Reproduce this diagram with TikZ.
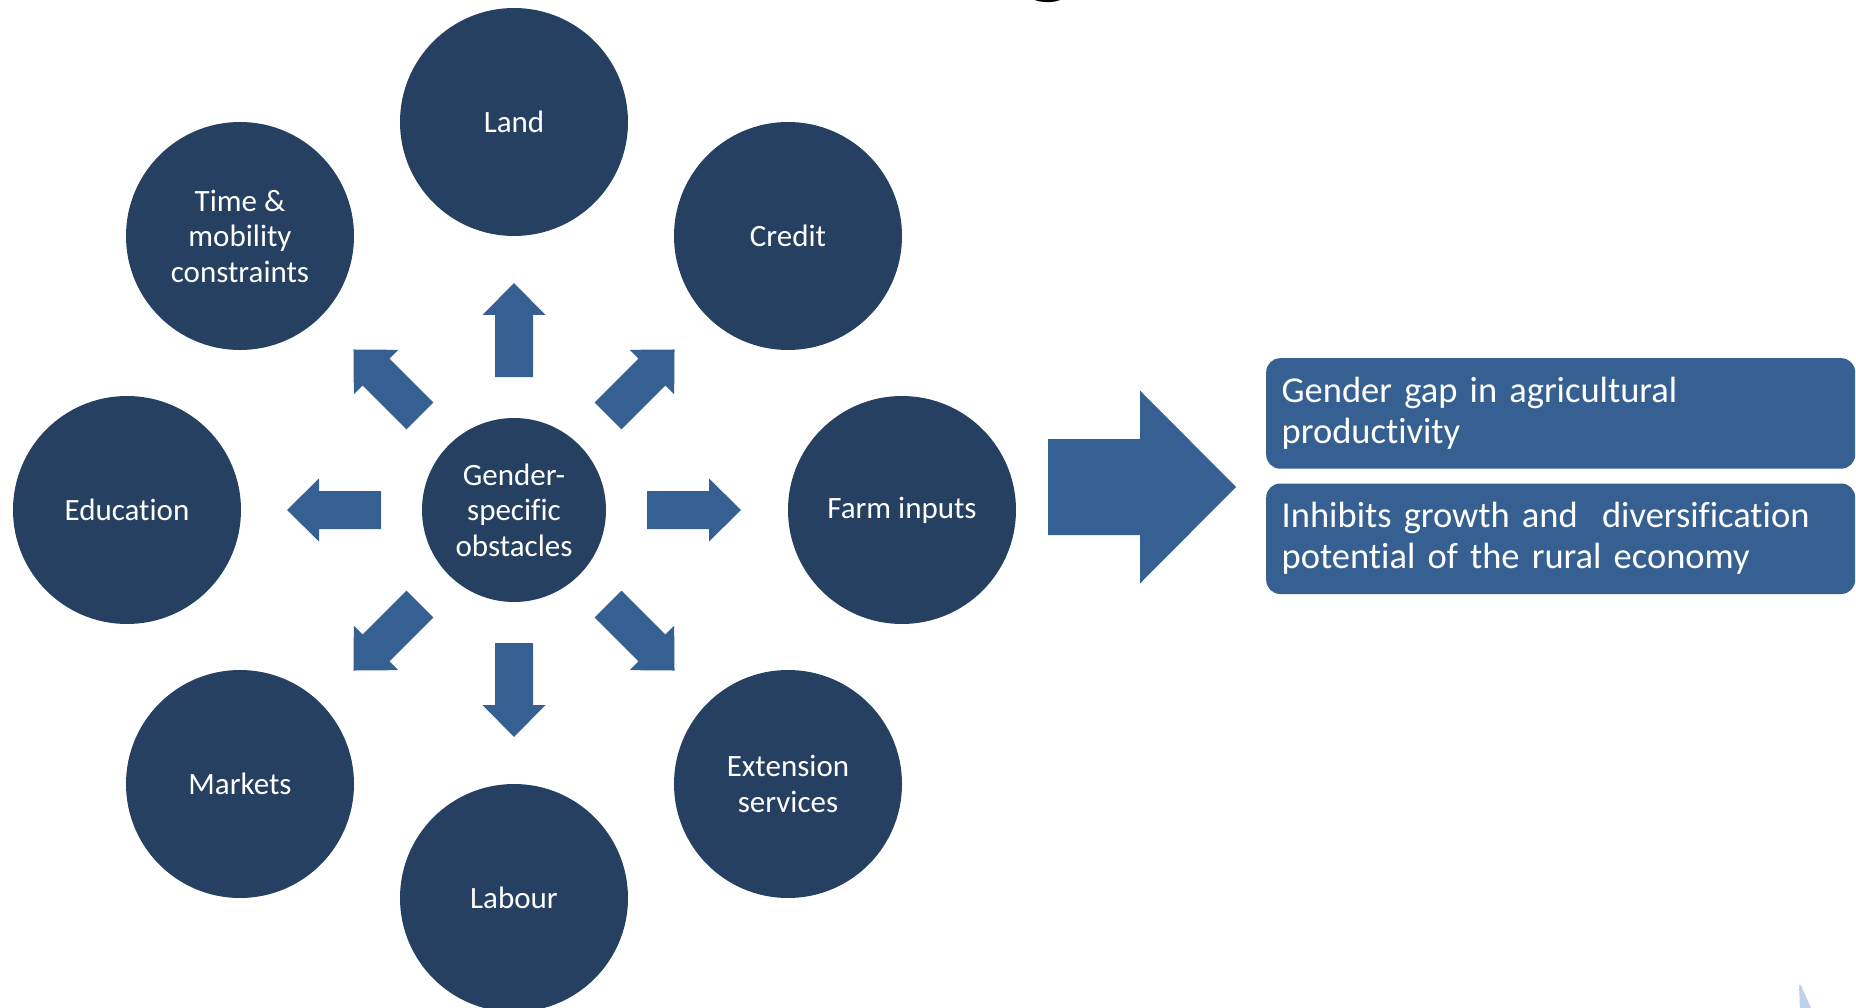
\documentclass[tikz,border=0pt]{standalone}
\usepackage{fontspec}
\setmainfont{Carlito}[Ligatures=NoCommon]
\definecolor{navy}{HTML}{264062}
\definecolor{midblue}{HTML}{376092}
\definecolor{paleblue}{HTML}{BED0EB}
\begin{document}
\begin{tikzpicture}[x=1pt,y=-1pt,
  sat/.style={circle, fill=navy, text=white, minimum size=228pt, inner sep=0pt, align=center, font=\fontsize{31}{35.5}\selectfont},
  hub/.style={sat, minimum size=184pt},
  spoke/.style={fill=midblue},
  outbox/.style={rectangle, rounded corners=14pt, fill=midblue, text=white, minimum height=110.5pt, inner xsep=15.5pt, text width=558pt, align=left, font=\fontsize{36.5}{41}\selectfont, anchor=north west}]
\useasboundingbox (0,0) rectangle (1856,1008);
\clip (0,0) rectangle (1856,1008);
\fill[white] (0,0) rectangle (1856,1008);

% cut-off title glyph
\node[anchor=base, inner sep=0pt, font=\fontsize{113}{113}\bfseries\selectfont] (title) at (1049,-16.5) {g};

% hub and satellites
\node[hub] (ctr) at (514,510) {Gender-\\specific\\obstacles};
\node[sat] (land) at (514,122) {Land};
\node[sat] (credit) at (788,236) {Credit};
\node[sat] (farm) at (902,510) {Farm inputs};
\node[sat] (ext) at (788,784) {Extension\\services};
\node[sat] (labour) at (514,898) {Labour};
\node[sat] (markets) at (240,784) {Markets};
\node[sat] (edu) at (127,510) {Education};
\node[sat] (time) at (240,236) {Time \&\\mobility\\constraints};

% eight block arrows
\foreach \a in {0,45,...,315} {
  \fill[spoke, shift={(ctr.center)}, rotate=\a]
    (133,-19) -- (195,-19) -- (195,-31.5) -- (227,0) -- (195,31.5) -- (195,19) -- (133,19) -- cycle;
}

% big arrow
\fill[spoke] (1048,439) -- (1140,439) -- (1140,390.5) -- (1236,487) -- (1140,583.5) -- (1140,535) -- (1048,535) -- cycle;

% outcome boxes
\node[outbox] (gap) at (1266,358) {Gender gap in agricultural\\productivity};
\node[outbox] (inhib) at (1266,483.3) {Inhibits growth and~ diversification\\potential of the rural economy};

% corner sliver
\fill[paleblue] (1799,985) -- (1800.7,985) -- (1811,1008) -- (1800,1008) -- cycle;
\end{tikzpicture}
\end{document}
